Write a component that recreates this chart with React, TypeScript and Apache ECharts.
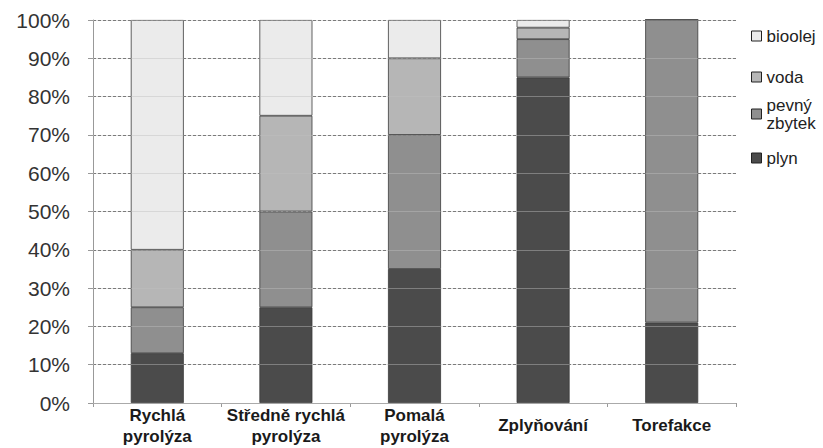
import React, { useEffect, useRef } from "react";
import * as echarts from "echarts";

const categories = ["Rychlá\npyrolýza", "Středně rychlá\npyrolýza", "Pomalá\npyrolýza", "Zplyňování", "Torefakce"];
const plyn = [13, 25, 35, 85, 21];
const pevnyZbytek = [12, 25, 35, 10, 79];
const voda = [15, 25, 20, 3, 0];
const bioolej = [60, 25, 10, 2, 0];
const yTicks = [0, 10, 20, 30, 40, 50, 60, 70, 80, 90, 100];

const FONT = "'Liberation Sans', Arial, sans-serif";

export default function App() {
  const ref = useRef<HTMLDivElement>(null);
  useEffect(() => {
    if (!ref.current) return;
    const chart = echarts.init(ref.current, undefined, { renderer: "svg" });
    const border = { borderColor: "#3a3a3a", borderWidth: 0.8 };
    const mkSeries = (name: string, data: number[], color: string) => ({
      name,
      type: "bar",
      stack: "total",
      data,
      barWidth: 53,
      itemStyle: { color, ...border },
    });
    const legendBase = {
      orient: "vertical",
      left: 751,
      padding: 0,
      itemWidth: 10,
      itemHeight: 10,
      itemGap: 0,
      icon: "rect",
      itemStyle: { borderColor: "#222", borderWidth: 1 },
      textStyle: { fontFamily: FONT, fontSize: 17, color: "#222", lineHeight: 18 },
    };
    chart.setOption({
      animation: false,
      backgroundColor: "#fff",
      grid: { left: 93, right: 87, top: 20, bottom: 45 },
      legend: [
        { ...legendBase, top: 27, data: ["bioolej"] },
        { ...legendBase, top: 68, data: ["voda"] },
        { ...legendBase, top: 96, data: ["pevný zbytek"], formatter: () => "pevný\nzbytek" },
        { ...legendBase, top: 149, data: ["plyn"] },
      ],
      xAxis: {
        type: "category",
        data: categories,
        axisLine: { show: true, lineStyle: { color: "#999", width: 1 } },
        axisTick: { show: true, length: 4, lineStyle: { color: "#999" } },
        axisLabel: {
          interval: 0,
          margin: 2,
          fontFamily: FONT,
          fontSize: 17,
          fontWeight: "bold",
          color: "#1a1a1a",
          lineHeight: 21,
          formatter: (v: string) => (v.includes("\n") ? v : "{s|" + v + "}"),
          rich: {
            s: { fontFamily: FONT, fontSize: 17, fontWeight: "bold", color: "#1a1a1a", lineHeight: 40 },
          },
        },
      },
      yAxis: [
        {
          type: "value",
          min: yTicks[0],
          max: yTicks[yTicks.length - 1],
          interval: 10,
          axisLine: { show: true, lineStyle: { color: "#999", width: 1 } },
          axisTick: { show: true, length: 5, lineStyle: { color: "#999" } },
          axisLabel: {
            margin: 23,
            fontFamily: FONT,
            fontSize: 21,
            color: "#333",
            formatter: (v: number) => v + "%",
          },
          splitLine: { show: true, lineStyle: { color: "#444", width: 1, type: [3, 2] } },
        },
        {
          type: "value",
          min: yTicks[0],
          max: yTicks[yTicks.length - 1],
          interval: 10,
          position: "left",
          z: 5,
          axisLine: { show: false },
          axisTick: { show: false },
          axisLabel: { show: false },
          splitLine: { show: true, lineStyle: { color: "rgba(190,190,190,0.45)", width: 1 } },
        },
      ],
      series: [
        mkSeries("plyn", plyn, "#4b4b4b"),
        mkSeries("pevný zbytek", pevnyZbytek, "#8f8f8f"),
        mkSeries("voda", voda, "#b6b6b6"),
        mkSeries("bioolej", bioolej, "#ebebeb"),
      ],
    });
    return () => chart.dispose();
  }, []);
  return <div ref={ref} style={{ width: 823, height: 448, position: "absolute", left: 0, top: 0 }} />;
}
